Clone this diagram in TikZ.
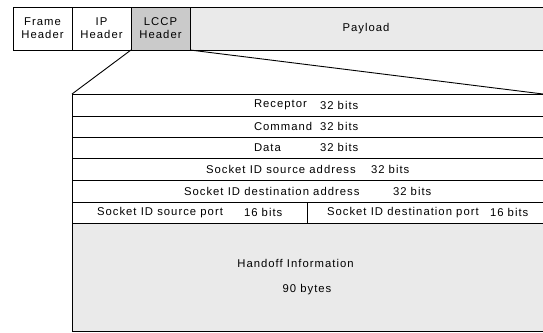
\documentclass[tikz,border=0pt]{standalone}
\usepackage{fontspec}
\setmainfont{Liberation Sans}[LetterSpace=9]
\definecolor{lccpgray}{HTML}{CACACA}
\definecolor{dotgray}{HTML}{EAEAEA}
\begin{document}
\begin{tikzpicture}[x=1pt,y=-1pt,line width=0.9pt,
  every node/.style={font=\fontsize{11.3}{13}\selectfont,inner sep=0pt,outer sep=0pt},
  cell/.style={draw,anchor=north west,align=center},
  txt/.style={anchor=west}]
\useasboundingbox (0,0) rectangle (543,332);
\clip (0,0) rectangle (543,332);
% top row
\node[cell,minimum width=59,minimum height=43] (frame) at (13,7) {Frame\\Header};
\node[cell,minimum width=59,minimum height=43] (ip) at (72,7) {IP\\Header};
\node[cell,fill=lccpgray,minimum width=59,minimum height=43] (lccp) at (131,7) {LCCP\\Header};
\node[cell,fill=dotgray,minimum width=356,minimum height=43] (payload) at (190,7) {};
\node (payloadtxt) at (366,28.5) {Payload};
% lower block
\node[cell,minimum width=474,minimum height=22] (r1) at (72,94) {};
\node[cell,minimum width=474,minimum height=21] (r2) at (72,116) {};
\node[cell,minimum width=474,minimum height=21] (r3) at (72,137) {};
\node[cell,minimum width=474,minimum height=22] (r4) at (72,158) {};
\node[cell,minimum width=474,minimum height=22] (r5) at (72,180) {};
\node[cell,minimum width=235,minimum height=21] (r6a) at (72,202) {};
\node[cell,minimum width=239,minimum height=21] (r6b) at (307,202) {};
\node[cell,fill=dotgray,minimum width=474,minimum height=108] (r7) at (72,223) {};
\coordinate (rc) at (543,94);
% connectors
\draw (lccp.south west) -- (r1.north west);
\draw (lccp.south east) -- (rc);
% texts
\node[txt] (t1) at (254,105) {Receptor};
\node[txt] (b1) at (320,105) {32 bits};
\node[txt] (t2) at (254,126.5) {Command};
\node[txt] (b2) at (320,126.5) {32 bits};
\node[txt] (t3) at (254,147.5) {Data};
\node[txt] (b3) at (320,147.5) {32 bits};
\node[txt] (t4) at (206,169) {Socket ID source address};
\node[txt] (b4) at (371,169) {32 bits};
\node[txt] (t5) at (184,191) {Socket ID destination address};
\node[txt] (b5) at (393,191) {32 bits};
\node[txt] (t6) at (97,212.5) {Socket ID source port};
\node[txt] (b6) at (244,212.5) {16 bits};
\node[txt] (t7) at (327,212.5) {Socket ID destination port};
\node[txt] (b7) at (490,212.5) {16 bits};
\node (h1) at (295.5,263) {Handoff Information};
\node (h2) at (307,290) {90 bytes};
\end{tikzpicture}
\end{document}
